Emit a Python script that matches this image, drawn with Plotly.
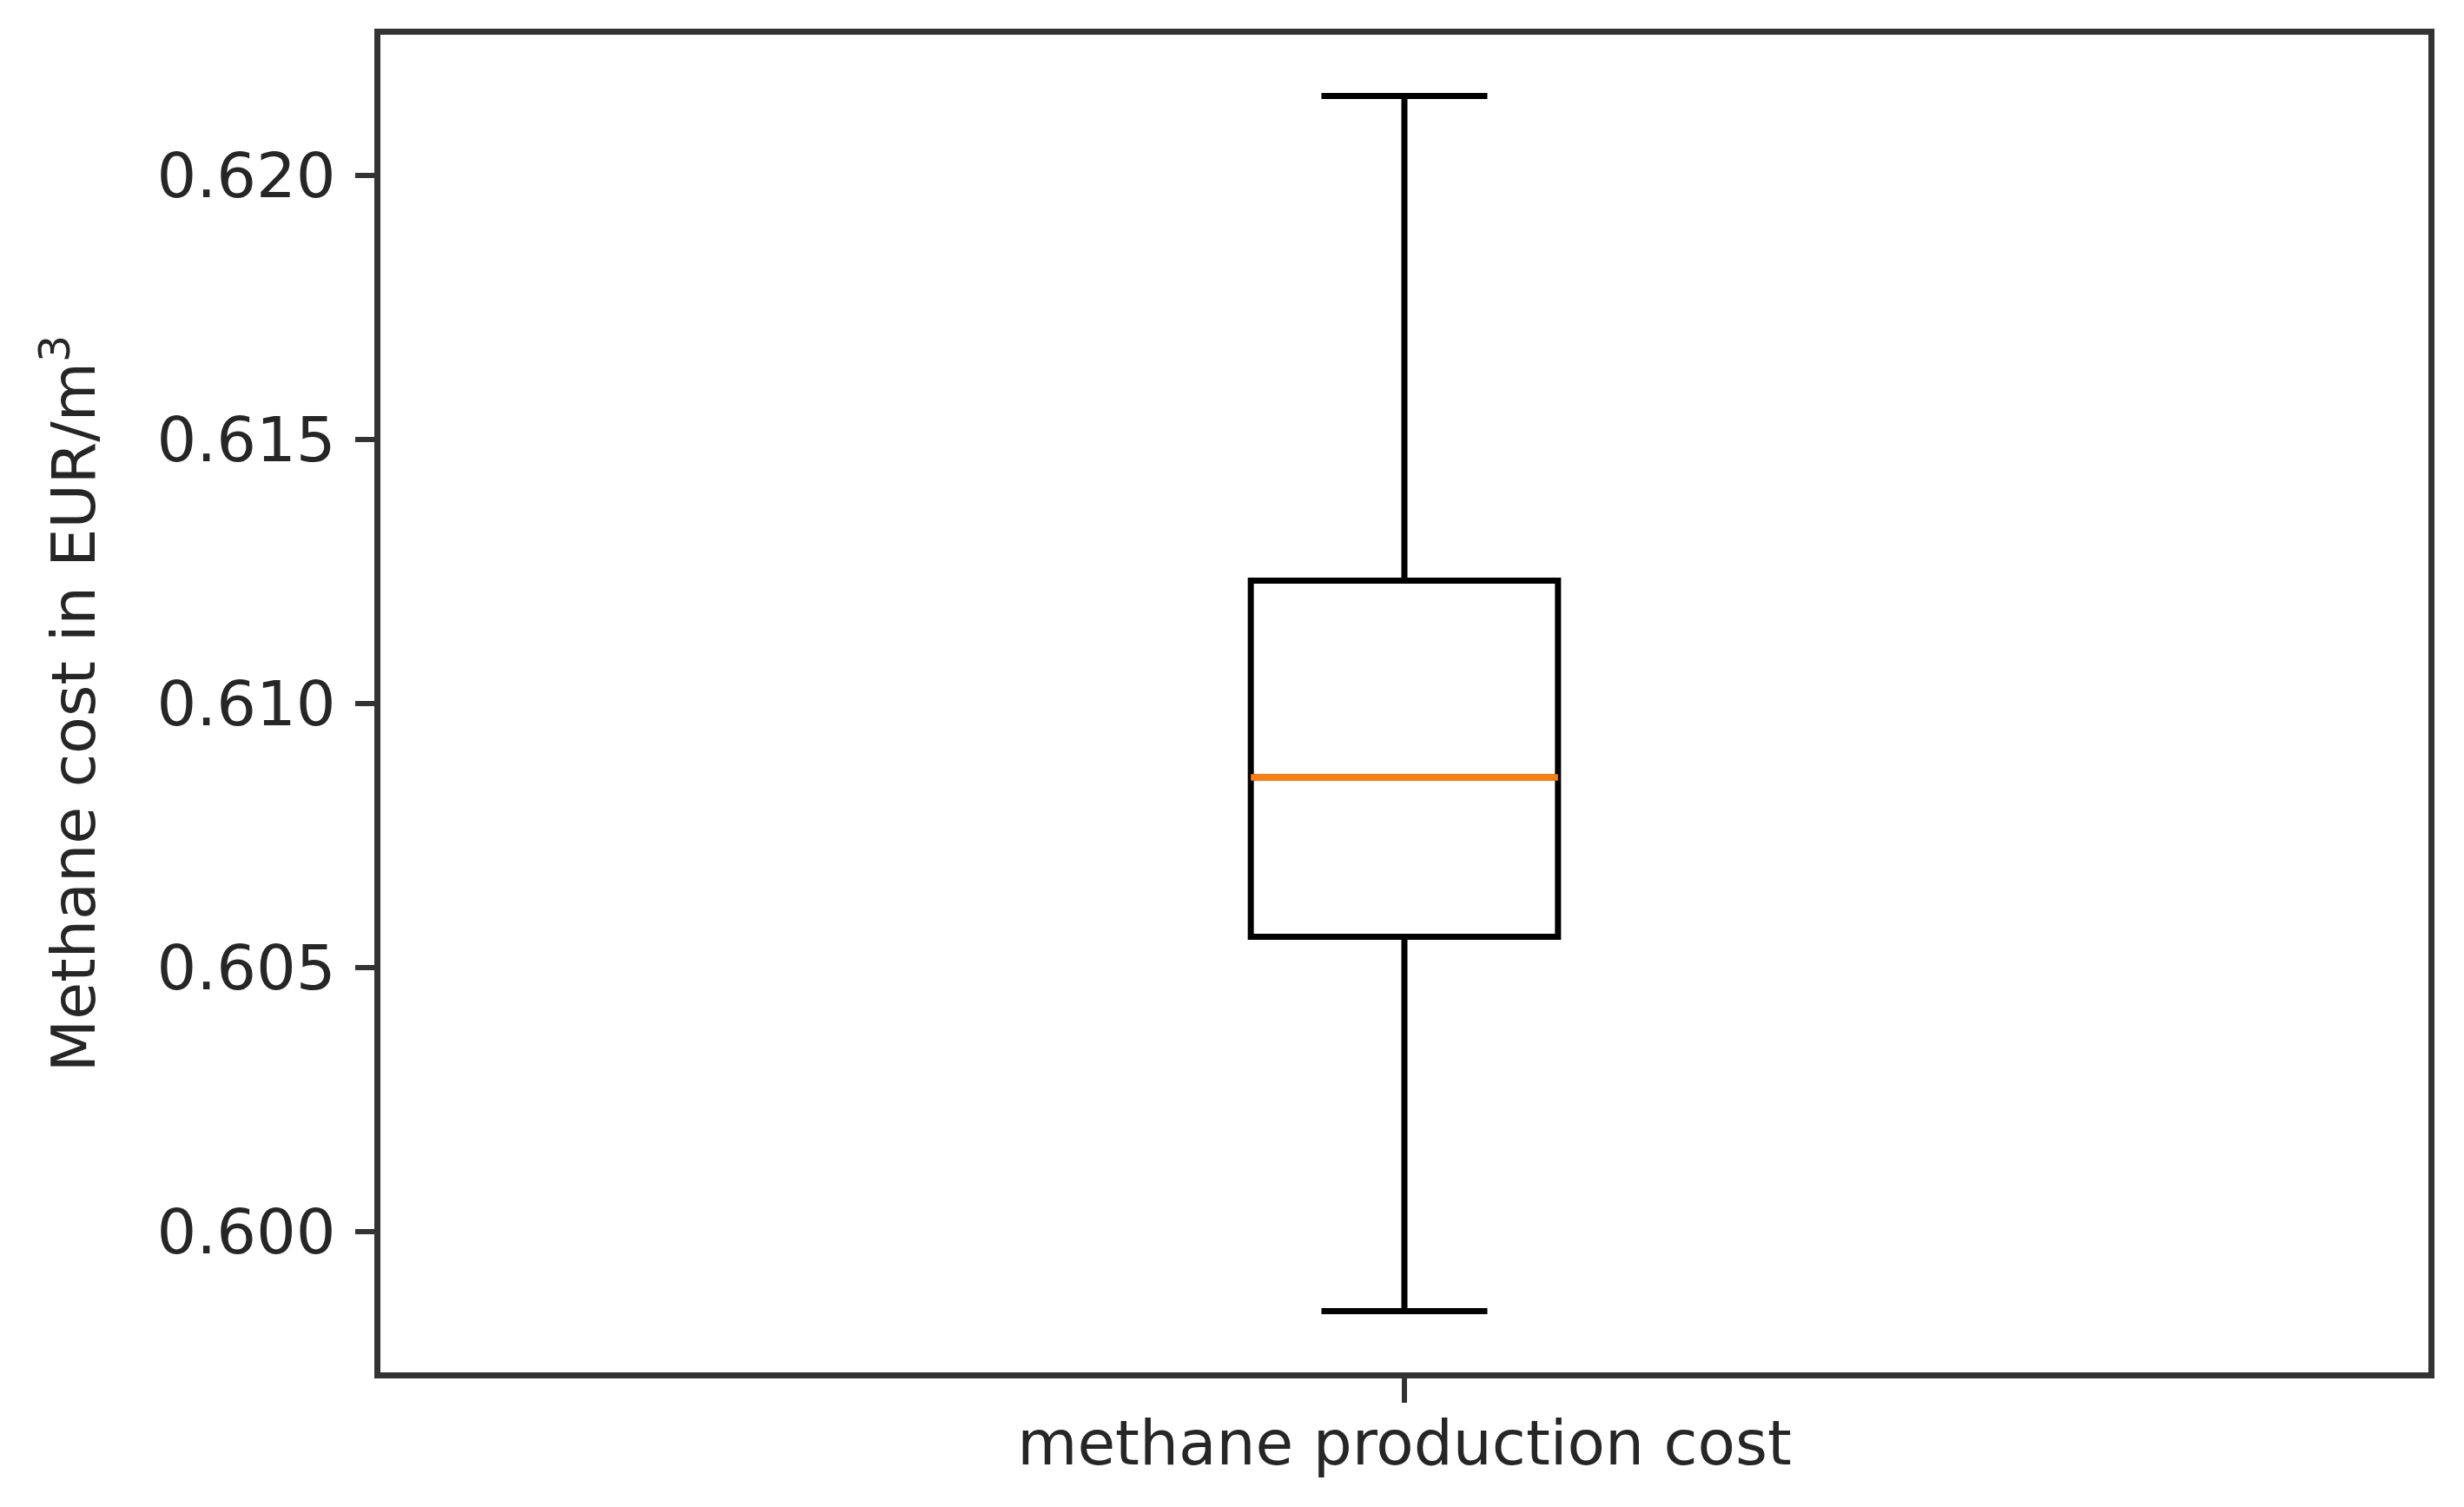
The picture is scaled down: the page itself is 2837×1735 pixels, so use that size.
import plotly.graph_objects as go

# box statistics (EUR/m3)
category = ["methane production cost"]
lower_fence = [0.59849]
q1 = [0.60558]
median = [0.60860]
q3 = [0.61233]
upper_fence = [0.62151]

y_ticks = [0.600, 0.605, 0.610, 0.615, 0.620]
y_range = [0.59733, 0.62267]

FONT = "DejaVu Sans"
TEXT = "#262626"
FRAME = "#333333"

fig = go.Figure()

# the box itself, black outline, white fill
fig.add_trace(go.Box(
    x=category,
    q1=q1, median=median, q3=q3,
    lowerfence=lower_fence, upperfence=upper_fence,
    boxpoints=False,
    fillcolor="white",
    line=dict(color="black", width=7),
    whiskerwidth=0.54,
    hoverinfo="skip",
    showlegend=False,
))

# orange median line drawn on top as a flat box
fig.add_trace(go.Box(
    x=category,
    q1=median, median=median, q3=median,
    lowerfence=median, upperfence=median,
    boxpoints=False,
    fillcolor="rgba(0,0,0,0)",
    line=dict(color="#ff7f0e", width=7.5),
    whiskerwidth=0,
    hoverinfo="skip",
    showlegend=False,
))

fig.update_layout(
    width=2837, height=1735,
    margin=dict(l=430, r=49, t=32, b=163),
    paper_bgcolor="white", plot_bgcolor="white",
    font=dict(family=FONT, size=70, color=TEXT),
    boxmode="overlay",
    boxgap=0.85,
    boxgroupgap=0,
)

fig.update_xaxes(
    type="category",
    range=[-0.5, 0.5],
    showline=True, linecolor=FRAME, linewidth=7, mirror=True,
    ticks="outside", ticklen=28, tickwidth=6, tickcolor=FRAME,
    ticklabelstandoff=-14,
    showgrid=False, zeroline=False,
    tickfont=dict(size=71, color=TEXT),
)

fig.update_yaxes(
    range=y_range,
    tickvals=y_ticks,
    tickformat=".3f",
    showline=True, linecolor=FRAME, linewidth=7, mirror=True,
    ticks="outside", ticklen=22, tickwidth=6, tickcolor=FRAME,
    ticklabelstandoff=8,
    showgrid=False, zeroline=False,
    tickfont=dict(size=72, color=TEXT),
    title=dict(text="Methane cost in EUR/m<sup>3</sup>", font=dict(size=70, color=TEXT), standoff=50),
)

fig.write_html("out.html")
